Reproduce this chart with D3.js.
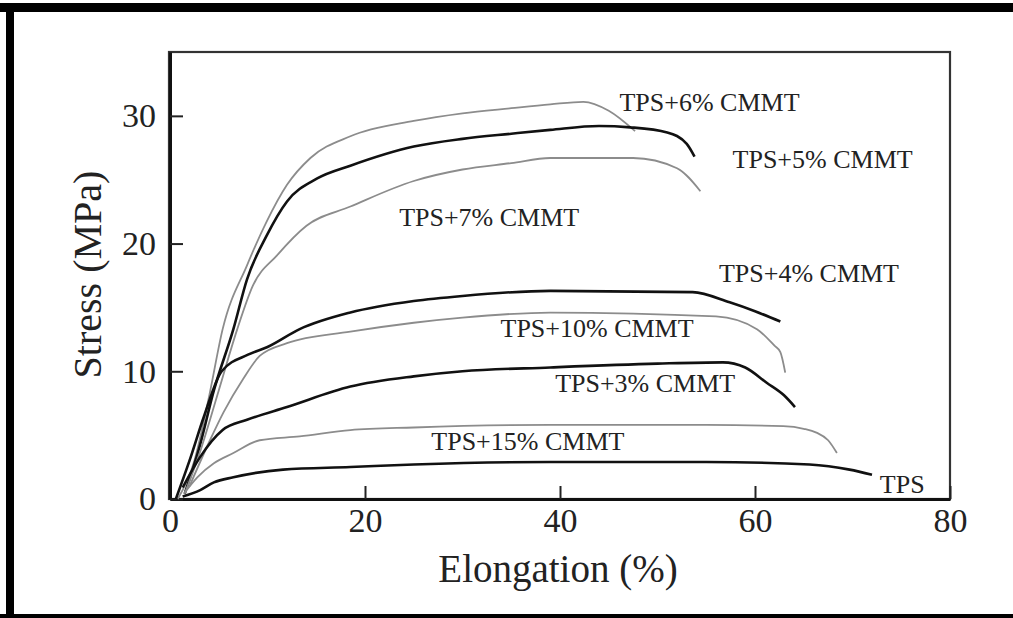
<!DOCTYPE html>
<html>
<head>
<meta charset="utf-8">
<script src="https://cdnjs.cloudflare.com/ajax/libs/d3/7.8.5/d3.min.js"></script>
<style>
  body { margin: 0; background: #fff; }
</style>
</head>
<body>
<script>
// stress-strain curves, [elongation %, stress MPa]
var tps6 = [[0.8,0],[2.5,3],[4,8],[5.4,13.3],[7.9,18.3],[9.9,21.7],[12,24.6],[14.4,26.7],[18.5,28.4],[25,29.6],[30,30.2],[35,30.6],[39,30.9],[42.4,31.1],[45,30.4],[47.7,28.8]];
var tps5 = [[1.5,0.4],[3,4],[4.5,8.5],[6.5,13.3],[7.9,17.2],[9.9,20.6],[12,23.3],[15.1,25.1],[18.5,26.1],[25,27.6],[30,28.2],[35,28.6],[39,28.9],[44,29.2],[47.2,29.1],[51,28.7],[53,27.8],[53.8,26.8]];
var tps7 = [[1.5,0.4],[3,3.5],[5,8.5],[6.9,13.3],[8.5,16.7],[11,19.1],[14,21.4],[18.5,22.9],[25,24.9],[30,25.8],[35,26.3],[39,26.7],[47.5,26.7],[52,25.9],[54.4,24.1]];
var tps4 = [[0.6,0],[2,3],[3.5,6.5],[5.3,10],[8,11.3],[10,11.9],[13.3,13.3],[18.5,14.6],[25,15.5],[30,15.9],[39,16.3],[53.6,16.2],[57.4,15.4],[60,14.7],[62.6,13.9]];
var tps10 = [[2,1],[4.1,4.6],[5.5,6.8],[7.5,9.4],[9.2,11.2],[12,12.2],[18.5,13.1],[25,13.8],[30,14.2],[39,14.6],[56,14.3],[60.2,13.3],[62,12],[62.6,11.5],[63.1,9.9]];
var tps3 = [[1.3,0.9],[3.1,3.3],[5.4,5.4],[7.9,6.2],[12,7.2],[18.5,8.8],[25,9.6],[30,10],[39,10.3],[50,10.6],[56.7,10.7],[59,10.3],[61.2,9.1],[63,8.1],[64.1,7.2]];
var tps15 = [[1.5,0.5],[2.8,1.7],[4.5,2.8],[6.5,3.6],[9.2,4.6],[13.3,4.9],[18.5,5.4],[25,5.6],[39,5.8],[55,5.8],[62.9,5.7],[65,5.5],[66.3,5.2],[67.5,4.6],[68.4,3.6]];
var tps0 = [[1.3,0.2],[3.1,0.7],[4.5,1.3],[6.5,1.7],[11.6,2.3],[18.5,2.5],[25,2.7],[39,2.9],[55,2.9],[65.6,2.7],[69.7,2.3],[72,1.9]];

var seriesNames = ["TPS+6% CMMT","TPS+5% CMMT","TPS+7% CMMT","TPS+4% CMMT","TPS+10% CMMT","TPS+3% CMMT","TPS+15% CMMT","TPS"];
var seriesData = [tps6, tps5, tps7, tps4, tps10, tps3, tps15, tps0];
var seriesDark = [false, true, false, true, false, true, false, true];
// label anchor points in data units (left edge, baseline)
var labelPos = [[46.1,30.4],[57.7,25.9],[23.5,21.4],[56.3,17],[33.9,12.7],[39.5,8.35],[26.8,3.85],[72.8,0.45]];

var xTicks = [0,20,40,60,80];
var yTicks = [0,10,20,30];

var serif = "'Liberation Serif', 'Times New Roman', 'DejaVu Serif', serif";

var svgWidth = 1013, svgHeight = 618;
var margin = {top: 52, right: 63, bottom: 119, left: 170};
var width = svgWidth - margin.left - margin.right;
var height = svgHeight - margin.top - margin.bottom;

var svg = d3.select("body").append("svg")
    .attr("width", svgWidth)
    .attr("height", svgHeight);

// black frame of the scanned page
svg.append("rect").attr("x",0).attr("y",3).attr("width",svgWidth).attr("height",9).attr("fill","#000");
svg.append("rect").attr("x",6).attr("y",3).attr("width",8).attr("height",615).attr("fill","#000");
svg.append("rect").attr("x",0).attr("y",614).attr("width",svgWidth).attr("height",4).attr("fill","#000");

var chartGroup = svg.append("g")
    .attr("transform", `translate(${margin.left}, ${margin.top})`);

var xScale = d3.scaleLinear().domain([0,80]).range([0,width]);
var yScale = d3.scaleLinear().domain([0,35]).range([height,0]);

// plot box
chartGroup.append("rect")
    .attr("x", -1).attr("y", 0)
    .attr("width", width + 1).attr("height", height)
    .attr("fill", "none").attr("stroke", "#333").attr("stroke-width", 2.2);

var bottomAxis = d3.axisBottom(xScale).tickValues(xTicks).tickSizeInner(-13).tickSizeOuter(0).tickPadding(9);
var leftAxis = d3.axisLeft(yScale).tickValues(yTicks).tickSizeInner(-13).tickSizeOuter(0).tickPadding(14);

var xg = chartGroup.append("g").attr("transform", `translate(0, ${height})`).call(bottomAxis);
var yg = chartGroup.append("g").call(leftAxis);
[xg, yg].forEach(function(g) {
    g.attr("font-family", null).attr("font-size", null);
    g.select(".domain").attr("stroke", "#111").attr("stroke-width", 3);
    g.selectAll(".tick line").attr("stroke", "#222").attr("stroke-width", 2);
    g.selectAll(".tick text")
        .style("font-family", serif)
        .style("font-size", "34px")
        .attr("fill", "#222");
});

var line = d3.line()
    .x(d => xScale(d[0]))
    .y(d => yScale(d[1]))
    .curve(d3.curveMonotoneX);

chartGroup.selectAll("path.curve")
    .data(seriesData)
    .enter()
    .append("path")
    .attr("class", "curve")
    .attr("d", line)
    .attr("fill", "none")
    .attr("stroke", (d, i) => seriesDark[i] ? "#111" : "#8c8c8c")
    .attr("stroke-width", (d, i) => seriesDark[i] ? 2.6 : 1.8)
    .attr("stroke-linejoin", "round");

chartGroup.selectAll("text.lbl")
    .data(seriesNames)
    .enter()
    .append("text")
    .attr("class", "lbl")
    .attr("x", (d, i) => xScale(labelPos[i][0]))
    .attr("y", (d, i) => yScale(labelPos[i][1]))
    .style("font-family", serif)
    .style("font-size", "26px")
    .attr("fill", "#222")
    .text(d => d);

// axis titles
chartGroup.append("text")
    .attr("x", width / 2 - 2)
    .attr("y", height + 83)
    .attr("text-anchor", "middle")
    .style("font-family", serif)
    .style("font-size", "39px")
    .attr("fill", "#222")
    .text("Elongation (%)");

chartGroup.append("text")
    .attr("transform", "rotate(-90)")
    .attr("x", -height / 2 + 1)
    .attr("y", -margin.left + 101)
    .attr("text-anchor", "middle")
    .style("font-family", serif)
    .style("font-size", "40px")
    .attr("fill", "#222")
    .text("Stress (MPa)");
</script>
</body>
</html>
